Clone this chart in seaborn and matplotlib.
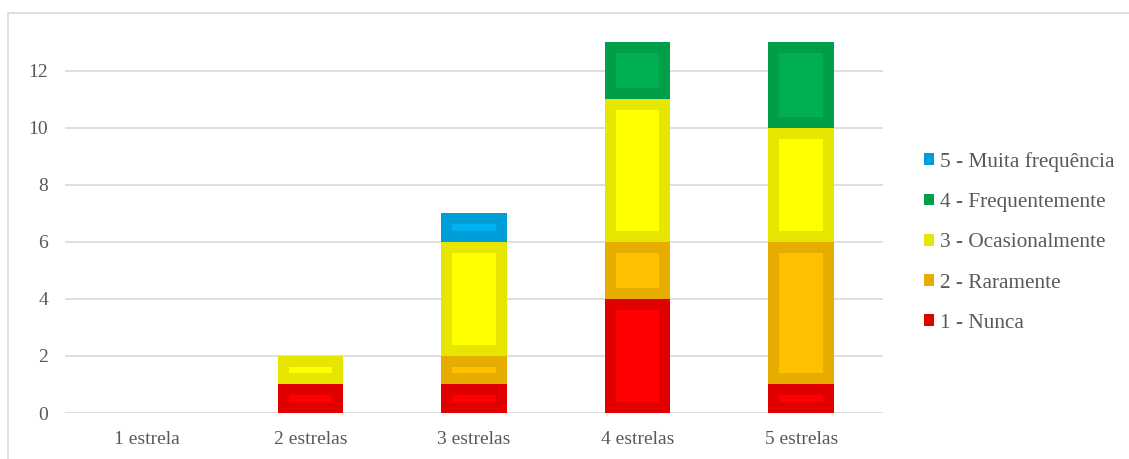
import matplotlib
matplotlib.use("Agg")
import matplotlib.pyplot as plt
from matplotlib.patches import Patch, Rectangle
import numpy as np
import seaborn as sns

categorias = ["1 estrela", "2 estrelas", "3 estrelas", "4 estrelas", "5 estrelas"]
series = ["1 - Nunca", "2 - Raramente", "3 - Ocasionalmente", "4 - Frequentemente", "5 - Muita frequência"]
nunca = [0, 1, 1, 4, 1]
raramente = [0, 0, 1, 2, 5]
ocasionalmente = [0, 1, 4, 5, 4]
frequentemente = [0, 0, 0, 2, 3]
muita_frequencia = [0, 0, 1, 0, 0]
valores = [nunca, raramente, ocasionalmente, frequentemente, muita_frequencia]

# inner fill / darker border for each series
preenchimento = ["#FF0000", "#FFC000", "#FFFF00", "#00B050", "#00B0F0"]
contorno = ["#E00000", "#E6AC00", "#E6E600", "#009E48", "#009ED8"]

sns.set_theme(style="white")
plt.rcParams["font.family"] = ["Liberation Serif", "DejaVu Serif"]
texto = "#595959"
tamanho = 14

fig = plt.figure(figsize=(11.29, 4.59), dpi=100)
ax = fig.add_axes([65 / 1129, 1 - 413 / 459, (883 - 65) / 1129, (413 - 42) / 459])

base = np.zeros(len(categorias))
for nome, v, fc, ec in zip(series, valores, preenchimento, contorno):
    barras = ax.bar(categorias, v, width=0.4, bottom=base, color=fc,
                    edgecolor=ec, linewidth=22 * 72 / 100, zorder=3)
    for b in barras:
        b.set_clip_path(b)
    base = base + np.array(v)

ax.set_xlim(-0.5, len(categorias) - 0.5)
ax.set_ylim(0, 13)
ax.set_yticks(range(0, 13, 2))
ax.yaxis.grid(True, color="#D9D9D9", linewidth=1.2, zorder=0)
ax.xaxis.grid(False)
for s in ax.spines.values():
    s.set_visible(False)
ax.tick_params(axis="both", length=0, labelsize=tamanho, labelcolor=texto)
ax.tick_params(axis="y", pad=12)
ax.tick_params(axis="x", pad=13)
ax.set_xlabel("")
ax.set_ylabel("")

handles = [Patch(facecolor=c, edgecolor="none") for c in contorno][::-1]
leg = fig.legend(handles, series[::-1], loc="upper left",
                 bbox_to_anchor=(924 / 1129, 1 - 152 / 459), frameon=False,
                 fontsize=15.3, labelcolor=texto, handlelength=0.47,
                 handleheight=0.47, handletextpad=0.28, labelspacing=1.0,
                 borderaxespad=0, borderpad=0)

# light outer frame of the chart area
fig.patches.append(Rectangle((8 / 1129, -0.1), 1.2, 1 - 13 / 459 + 0.1,
                             transform=fig.transFigure, fill=False,
                             edgecolor="#D9D9D9", linewidth=1.2))

fig.savefig("out.png", dpi=100)
